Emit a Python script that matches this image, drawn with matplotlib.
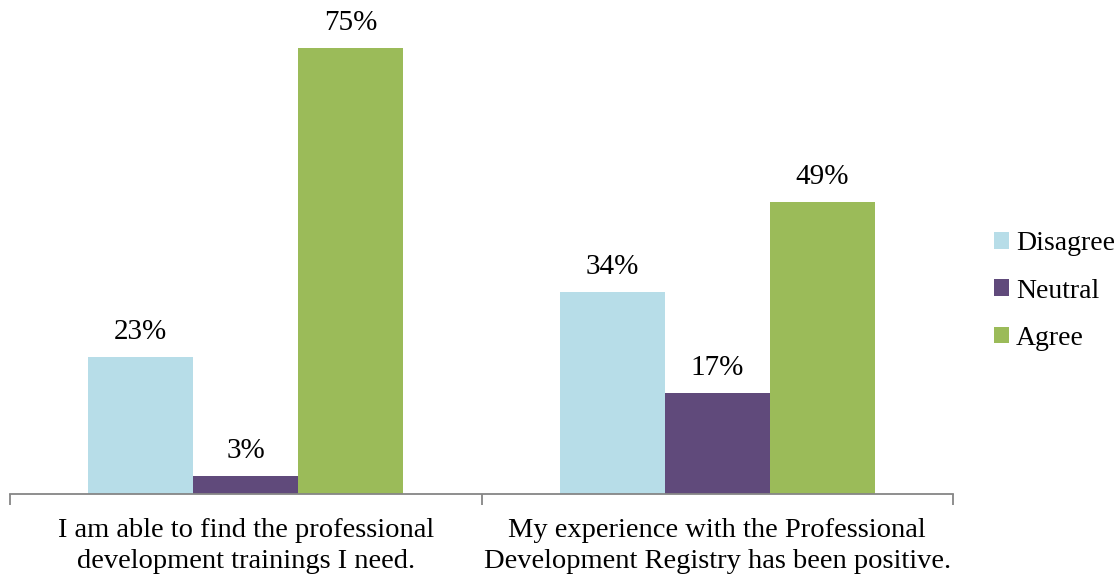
import numpy as np
import matplotlib
matplotlib.use("Agg")
import matplotlib.pyplot as plt

plt.rcParams['font.family'] = ['Liberation Serif', 'DejaVu Serif']

categories = ["I am able to find the professional\ndevelopment trainings I need.",
              "My experience with the Professional\nDevelopment Registry has been positive."]
series = ["Disagree", "Neutral", "Agree"]
disagree = [23, 34]
neutral = [3, 17]
agree = [75, 49]
colors = ["#B7DDE8", "#604A7B", "#9BBB59"]

fig = plt.figure(figsize=(11.18, 5.75), dpi=100)
ax = fig.add_axes([10/1118, 81/575, 943/1118, 494/575])

x = np.arange(len(categories))
w = 0.223
for i, (name, vals, c) in enumerate(zip(series, [disagree, neutral, agree], colors)):
    pos = x + (i - 1) * w
    bars = ax.bar(pos, vals, w, color=c, label=name, linewidth=0)
    for p, v in zip(pos, vals):
        ax.text(p, v + 2.0, f"{v}%", ha='center', va='bottom', fontsize=21)

ax.set_xlim(-0.5, 1.5)
ax.set_ylim(0, 83)
ax.set_yticks([])
for s in ['top', 'right', 'left']:
    ax.spines[s].set_visible(False)
ax.spines['bottom'].set_color('#868686')
ax.spines['bottom'].set_linewidth(1.3)
ax.set_xticks([-0.5, 0.5, 1.5], minor=False)
ax.set_xticklabels([])
ax.tick_params(axis='x', length=8, color='#868686', width=1.3)
for xi, lab in zip(x, categories):
    ax.text(xi, -4.1, lab, ha='center', va='top', fontsize=20.5, linespacing=1.28)

leg = fig.legend(loc='center left', bbox_to_anchor=(994/1118, 1 - 291/575), frameon=False,
                 fontsize=20, handlelength=0.55, handleheight=0.55, handletextpad=0.25,
                 labelspacing=0.8, borderpad=0, borderaxespad=0)
fig.savefig("out.png", dpi=100)
